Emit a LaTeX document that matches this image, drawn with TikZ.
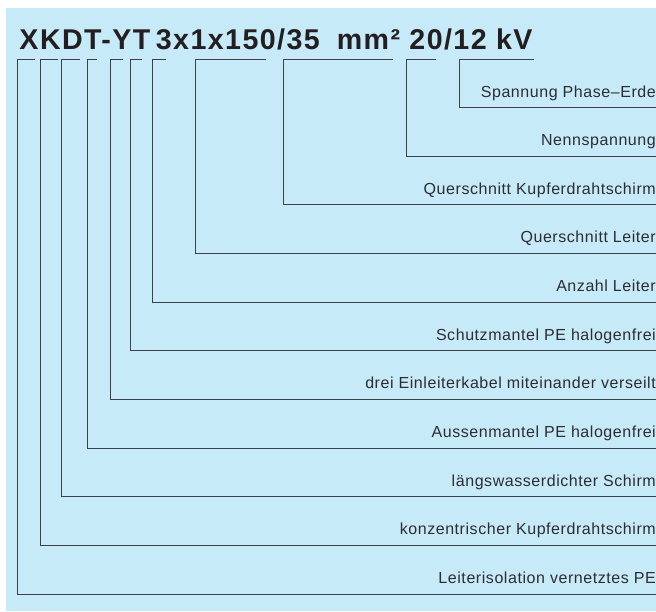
\documentclass[tikz,border=0pt]{standalone}
\usepackage{fontspec}
\setmainfont{Liberation Sans}
\newfontfamily\lblfont[LetterSpace=3.5]{Liberation Sans}
\newfontfamily\ttlfont[LetterSpace=5]{Liberation Sans}
\definecolor{bg}{RGB}{199,234,249}
\definecolor{ln}{RGB}{62,64,70}
\definecolor{tx}{RGB}{45,45,48}
\definecolor{tt}{RGB}{35,31,32}
\begin{document}
\begin{tikzpicture}[x=1pt,y=-1pt,
  lbl/.style={anchor=base east, inner sep=0pt, font=\lblfont\fontsize{16}{18}\selectfont, text=tx},
  conn/.style={draw=ln, line width=0.9pt},
  ttl/.style={anchor=base west, inner sep=0pt, font=\ttlfont\fontsize{28.6}{32}\selectfont\bfseries, text=tt}]
\useasboundingbox (0,0) rectangle (656,611);
\fill[bg] (6,8) rectangle (656,611);
\node[ttl] (title) at (19.3,49.5) {\makebox[136.4pt][l]{XKDT-YT}\makebox[181pt][l]{3x1x150/35}\makebox[72.6pt][l]{mm²}20/12 kV};
\foreach \k/\xl/\xr/\txt in {
  0/459.3/534/{Spannung Phase–Erde},
  1/406.7/436/{Nennspannung},
  2/283.7/393/{Querschnitt Kupferdrahtschirm},
  3/195/265.7/{Querschnitt Leiter},
  4/152/166/{Anzahl Leiter},
  5/130.3/141.7/{Schutzmantel PE halogenfrei},
  6/110.7/122.7/{drei Einleiterkabel miteinander verseilt},
  7/87.7/97.3/{Aussenmantel PE halogenfrei},
  8/61.7/80/{längswasserdichter Schirm},
  9/40.7/58.3/{konzentrischer Kupferdrahtschirm},
  10/17.3/35/{Leiterisolation vernetztes PE}} {
  \pgfmathsetmacro\yy{107.5+48.65*\k}
  \coordinate (t\k) at (\xr,59);
  \coordinate (c\k) at (\xl,59);
  \coordinate (b\k) at (\xl,\yy);
  \coordinate (e\k) at (656,\yy);
  \node[lbl] (l\k) at (656,\yy-10.5) {\txt};
  \draw[conn] (t\k) -- (c\k) -- (b\k) -- (e\k);
}
\end{tikzpicture}
\end{document}
